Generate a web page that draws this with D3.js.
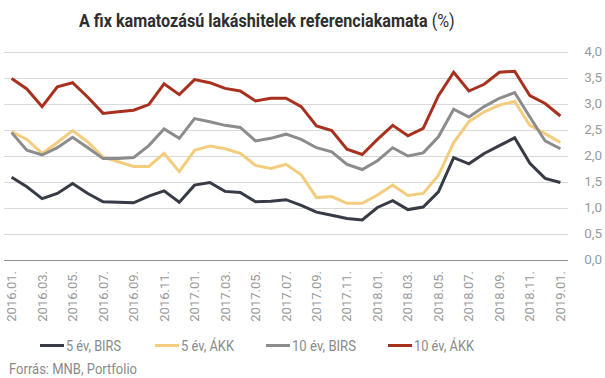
<!DOCTYPE html>
<html><head><meta charset="utf-8">
<script src="https://cdn.jsdelivr.net/npm/d3@7"></script>
<style>body{margin:0;background:#fff}svg{display:block}</style>
</head><body>
<svg id="c" width="605" height="378"></svg>
<script>
const months = ["2016.01.","2016.02.","2016.03.","2016.04.","2016.05.","2016.06.","2016.07.","2016.08.","2016.09.","2016.10.","2016.11.","2016.12.",
"2017.01.","2017.02.","2017.03.","2017.04.","2017.05.","2017.06.","2017.07.","2017.08.","2017.09.","2017.10.","2017.11.","2017.12.",
"2018.01.","2018.02.","2018.03.","2018.04.","2018.05.","2018.06.","2018.07.","2018.08.","2018.09.","2018.10.","2018.11.","2018.12.","2019.01."];
const birs5 = [1.58,1.40,1.17,1.27,1.46,1.27,1.11,1.10,1.09,1.22,1.32,1.10,1.43,1.48,1.31,1.29,1.11,1.12,1.15,1.04,0.91,0.85,0.79,0.76,1.00,1.13,0.96,1.01,1.30,1.96,1.84,2.04,2.19,2.34,1.85,1.56,1.48];
const akk5 = [2.46,2.31,2.04,2.25,2.48,2.26,1.97,1.88,1.79,1.79,2.04,1.69,2.10,2.18,2.13,2.04,1.81,1.75,1.83,1.63,1.19,1.21,1.08,1.08,1.24,1.43,1.23,1.27,1.62,2.25,2.65,2.84,2.97,3.04,2.58,2.42,2.25];
const birs10 = [2.44,2.10,2.01,2.15,2.35,2.15,1.94,1.94,1.96,2.19,2.51,2.33,2.71,2.65,2.58,2.54,2.28,2.33,2.41,2.31,2.15,2.07,1.83,1.73,1.90,2.15,1.99,2.05,2.36,2.89,2.74,2.94,3.10,3.21,2.74,2.28,2.13];
const akk10 = [3.48,3.28,2.94,3.32,3.40,3.12,2.81,2.84,2.87,2.98,3.38,3.17,3.46,3.40,3.29,3.24,3.05,3.10,3.10,2.94,2.57,2.48,2.12,2.02,2.31,2.58,2.38,2.52,3.15,3.60,3.24,3.37,3.60,3.62,3.15,3.00,2.76];
const seriesNames = ["5 év, BIRS","5 év, ÁKK","10 év, BIRS","10 év, ÁKK"];
const seriesColors = ["#363b45","#f3cd7d","#8c8c8c","#a8301f"];
const yTicks = [0,0.5,1,1.5,2,2.5,3,3.5,4];

const series = [birs5, akk5, birs10, akk10].map((v,i)=>({name:seriesNames[i], color:seriesColors[i], values:v}));

const svg = d3.select("#c");
const font = "Roboto, 'Noto Sans', sans-serif";
const x = d3.scalePoint().domain(months).range([4,568]).padding(0.5);
const y = d3.scaleLinear().domain([0,4]).range([259.5,51.5]);

// gridlines
svg.append("g").selectAll("line").data(yTicks.filter(d=>d>0)).join("line")
  .attr("x1",4).attr("x2",568)
  .attr("y1",d=>Math.round(y(d))+0.5).attr("y2",d=>Math.round(y(d))+0.5)
  .attr("stroke","#d9d9d9").attr("stroke-width",1);
// baseline
svg.append("line").attr("x1",4).attr("x2",568)
  .attr("y1",Math.round(y(0))+0.5).attr("y2",Math.round(y(0))+0.5)
  .attr("stroke","#8f8f8f").attr("stroke-width",1);

// y labels
svg.append("g").selectAll("text").data(yTicks).join("text")
  .attr("x",602).attr("y",d=>y(d)).attr("dy","0.36em")
  .attr("text-anchor","end").attr("font-family",font).attr("font-size",13.5)
  .attr("fill","#9a9a9a").text(d=>d.toFixed(1).replace(".",","));

// x labels
svg.append("g").selectAll("text").data(months.filter((d,i)=>i%2===0)).join("text")
  .attr("transform",d=>`translate(${x(d)+4.5},${271}) rotate(-90)`)
  .attr("text-anchor","end").attr("font-family",font).attr("font-size",13)
  .attr("fill","#9a9a9a").text(d=>d);

// lines
const line = d3.line().x((d,i)=>x(months[i])).y(d=>y(d));
svg.append("g").selectAll("path").data(series).join("path")
  .attr("d",d=>line(d.values)).attr("fill","none")
  .attr("stroke",d=>d.color).attr("stroke-width",3).attr("stroke-linejoin","miter");

// title (condensed by horizontal scaling of the group)
const tg = svg.append("g");
const title = tg.append("text").attr("x",0).attr("y",0).attr("font-family",font)
  .attr("font-size",19).attr("fill","#2e2e2e");
title.append("tspan").attr("font-weight","bold").text("A fix kamatozású lakáshitelek referenciakamata ");
title.append("tspan").attr("font-weight","normal").text("(%)");
const tw = title.node().getComputedTextLength();
tg.attr("transform",`translate(79,27) scale(${376/tw},1)`);

// legend
const legX = [40,155,266,388];
const legW = [55,53,64,60];
const lg = svg.append("g").selectAll("g").data(series).join("g")
  .attr("transform",(d,i)=>`translate(${legX[i]},0)`);
lg.append("line").attr("x1",0).attr("x2",24).attr("y1",345.5).attr("y2",345.5)
  .attr("stroke",d=>d.color).attr("stroke-width",3);
lg.append("text").attr("x",26).attr("y",350.5).attr("font-family",font)
  .attr("font-size",15).attr("fill","#8a8a8a")
  .attr("textLength",(d,i)=>legW[i]).attr("lengthAdjust","spacingAndGlyphs")
  .text(d=>d.name);

// source
svg.append("text").attr("x",9).attr("y",374).attr("font-family",font)
  .attr("font-size",14).attr("fill","#8a8a8a")
  .attr("textLength",128).attr("lengthAdjust","spacingAndGlyphs")
  .text("Forrás: MNB, Portfolio");
</script>
</body></html>
